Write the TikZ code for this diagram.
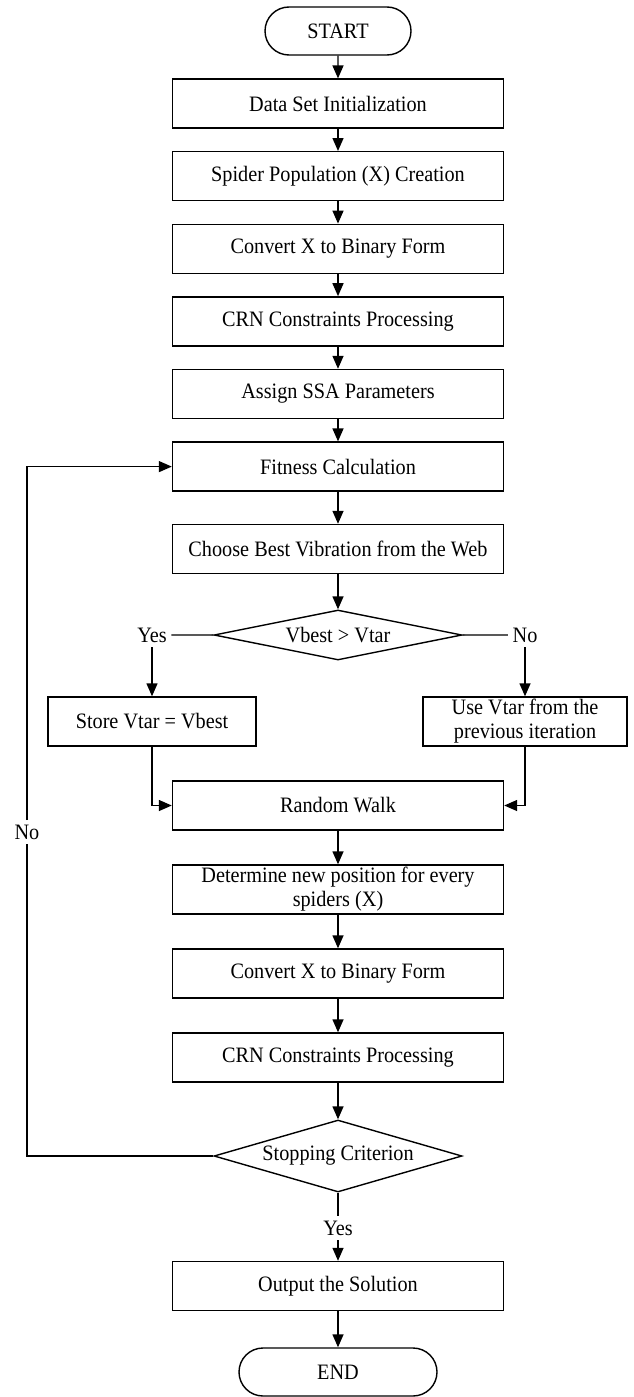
\documentclass[tikz,border=0pt]{standalone}
\usepackage{fontspec}
\setmainfont[FakeStretch=0.92]{Liberation Serif}
\usetikzlibrary{arrows.meta,shapes.geometric,shapes.misc,positioning}

\begin{document}
\begin{tikzpicture}[x=1pt,y=-1pt,->,>={Triangle[length=13pt,width=11pt]},line width=1.4pt,
	node distance=72.6pt,font=\fontsize{22pt}{24pt}\selectfont,
	proc/.style={rectangle,draw,minimum width=331pt,minimum height=49pt,inner sep=0pt,align=center},
	term/.style={rounded rectangle,draw,minimum height=48pt,inner sep=0pt},
	test/.style={diamond,draw,aspect=4,minimum width=248pt,inner sep=0pt},
	lbl/.style={inner sep=4pt}]

	\useasboundingbox (0,0) rectangle (634,1397);

	\node[term,minimum width=146pt] (start) at (338,31) {START};
	\node[proc,below of=start] (init) {Data Set Initialization};
	\node[proc,below of=init] (pop) {Spider Population (X) Creation};
	\node[proc,below of=pop] (bin1) {Convert X to Binary Form};
	\node[proc,below of=bin1] (crn1) {CRN Constraints Processing};
	\node[proc,below of=crn1] (ssa) {Assign SSA Parameters};
	\node[proc,below of=ssa] (fit) {Fitness Calculation};
	\node[proc,node distance=82.4pt,below of=fit] (vib) {Choose Best Vibration from the Web};
	\node[test,minimum height=50pt,node distance=86pt,below of=vib] (cmp) {Vbest > Vtar};

	\node[lbl] (yes1) at (152,635) {Yes};
	\node[lbl] (no1) at (525,635) {No};
	\node[proc,minimum width=208pt] (store) at (152,721.5) {Store Vtar = Vbest};
	\node[proc,minimum width=204pt] (keep) at (525,721.5) {Use Vtar from the\\previous iteration};

	\node[proc,node distance=170.5pt,below of=cmp] (walk) {Random Walk};
	\node[proc,node distance=84pt,below of=walk] (pos) {Determine new position for every\\spiders (X)};
	\node[proc,node distance=84pt,below of=pos] (bin2) {Convert X to Binary Form};
	\node[proc,node distance=84pt,below of=bin2] (crn2) {CRN Constraints Processing};
	\node[test,minimum height=72pt,node distance=98.5pt,below of=crn2] (stop) {Stopping Criterion};
	\node[lbl] (yes2) at (338,1228) {Yes};
	\node[proc,node distance=130pt,below of=stop] (out) {Output the Solution};
	\node[term,minimum width=198pt,node distance=86pt,below of=out] (end) {END};
	\node[lbl] (no2) at (27,832) {No};

	\path
	(start) edge (init)
	(init) edge (pop)
	(pop) edge (bin1)
	(bin1) edge (crn1)
	(crn1) edge (ssa)
	(ssa) edge (fit)
	(fit) edge (vib)
	(vib) edge (cmp)
	(walk) edge (pos)
	(pos) edge (bin2)
	(bin2) edge (crn2)
	(crn2) edge (stop)
	(yes2) edge (out)
	(out) edge (end);

	\draw[-] (cmp.west) -- (yes1.east);
	\draw[-] (cmp.east) -- (no1.west);
	\draw (yes1.south) -- (store.north);
	\draw (no1.south) -- (keep.north);
	\draw (store.south) |- (walk.west);
	\draw (keep.south) |- (walk.east);
	\draw[-] (stop.south) -- (yes2.north);
	\draw[-] (stop.west) -| (no2.south);
	\draw (no2.north) |- (fit.west);
\end{tikzpicture}
\end{document}
